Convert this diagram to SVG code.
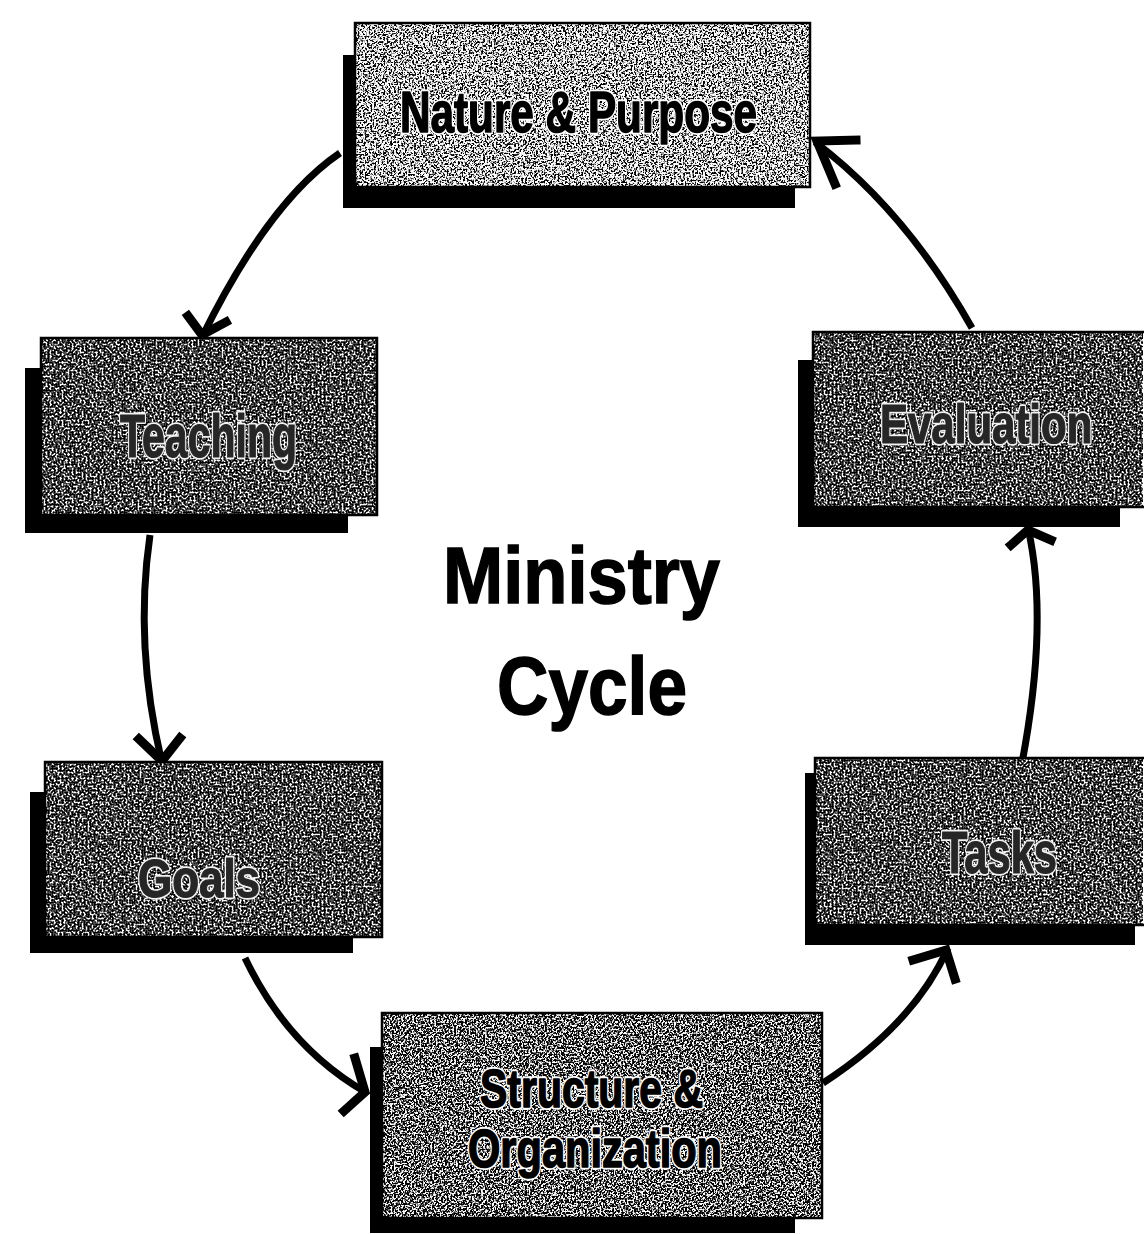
<svg xmlns="http://www.w3.org/2000/svg" width="1144" height="1234" viewBox="0 0 1144 1234">
<style>
  .shadow { fill: #000; }
  .edge { fill: none; stroke: #000; stroke-width: 2.5; }
  .light { fill: #a8a8a8; filter: url(#speckLight); }
  .mid { fill: #909090; filter: url(#speckMid); }
  .dark { fill: #5a5a5a; filter: url(#speckDark); }
  .lbl { font-family: "Liberation Sans", Arial, sans-serif; font-weight: bold; stroke-linejoin: round; }
  .halo { fill: #fff; stroke: #fff; stroke-width: 5; }
  .haloDark { fill: #f2f2f2; stroke: #f2f2f2; stroke-width: 4.5; }
  .ink { fill: #000; stroke: #000; stroke-width: 1.6; }
  .inkDark { fill: #262626; stroke: #262626; stroke-width: 1.2; }
  .title { font-family: "Liberation Sans", Arial, sans-serif; font-weight: bold; fill: #000; stroke: #000; stroke-width: 1.5; }
  .conn path { fill: none; stroke: #000; stroke-width: 7; stroke-linecap: butt; }
  .conn .head { stroke-width: 9; stroke-linecap: square; stroke-linejoin: miter; }
</style>
<defs>
  <filter id="speckLight" x="0" y="0" width="100%" height="100%" color-interpolation-filters="sRGB">
    <feTurbulence type="fractalNoise" baseFrequency="0.55" numOctaves="2" seed="4" result="n"/>
    <feColorMatrix in="n" type="matrix" values="1 0 0 0 0  1 0 0 0 0  1 0 0 0 0  0 0 0 0 1"/>
    <feComponentTransfer>
      <feFuncR type="discrete" tableValues="0 0 0 0 0 0 0 0 0.2 0.6 0.9 1 1 1 1 1 1 1 1 1"/>
      <feFuncG type="discrete" tableValues="0 0 0 0 0 0 0 0 0.2 0.6 0.9 1 1 1 1 1 1 1 1 1"/>
      <feFuncB type="discrete" tableValues="0 0 0 0 0 0 0 0 0.2 0.6 0.9 1 1 1 1 1 1 1 1 1"/>
    </feComponentTransfer>
    <feComposite operator="in" in2="SourceGraphic"/>
  </filter>
  <filter id="speckMid" x="0" y="0" width="100%" height="100%" color-interpolation-filters="sRGB">
    <feTurbulence type="fractalNoise" baseFrequency="0.55" numOctaves="2" seed="9" result="n"/>
    <feColorMatrix in="n" type="matrix" values="1 0 0 0 0  1 0 0 0 0  1 0 0 0 0  0 0 0 0 1"/>
    <feComponentTransfer>
      <feFuncR type="discrete" tableValues="0 0 0 0 0 0 0 0 0 0.15 0.5 0.85 1 1 1 1 1 1 1 1"/>
      <feFuncG type="discrete" tableValues="0 0 0 0 0 0 0 0 0 0.15 0.5 0.85 1 1 1 1 1 1 1 1"/>
      <feFuncB type="discrete" tableValues="0 0 0 0 0 0 0 0 0 0.15 0.5 0.85 1 1 1 1 1 1 1 1"/>
    </feComponentTransfer>
    <feComposite operator="in" in2="SourceGraphic"/>
  </filter>
  <filter id="speckDark" x="0" y="0" width="100%" height="100%" color-interpolation-filters="sRGB">
    <feTurbulence type="fractalNoise" baseFrequency="0.5" numOctaves="2" seed="17" result="n"/>
    <feColorMatrix in="n" type="matrix" values="1 0 0 0 0  1 0 0 0 0  1 0 0 0 0  0 0 0 0 1"/>
    <feComponentTransfer>
      <feFuncR type="discrete" tableValues="0 0 0 0 0 0 0 0 0 0.1 0.3 0.6 0.85 1 1 1 1 1 1 1"/>
      <feFuncG type="discrete" tableValues="0 0 0 0 0 0 0 0 0 0.1 0.3 0.6 0.85 1 1 1 1 1 1 1"/>
      <feFuncB type="discrete" tableValues="0 0 0 0 0 0 0 0 0 0.1 0.3 0.6 0.85 1 1 1 1 1 1 1"/>
    </feComponentTransfer>
    <feComposite operator="in" in2="SourceGraphic"/>
  </filter>
</defs>
<rect x="0" y="0" width="1144" height="1234" fill="#fff"/>

<g id="connectors" class="conn">
  <path d="M340,153 Q269,201 202,337"/>
  <path class="head" d="M188,316 L202,335 L226,322"/>
  <path d="M150,535 Q134,645 162,763"/>
  <path class="head" d="M139,739 L162,761 L180,738"/>
  <path d="M245,958 Q288,1048 367,1093"/>
  <path class="head" d="M355,1058 L365,1092 L344,1111"/>
  <path d="M823,1083 Q914,1024 948,948"/>
  <path class="head" d="M913,960 L946,950 L955,979"/>
  <path d="M1022,763 Q1049,620 1028,528"/>
  <path class="head" d="M1011,545 L1028,530 L1051,540"/>
  <path d="M972,328 Q906,211 815,142"/>
  <path class="head" d="M856,140 L817,141 L835,184"/>
</g>

<g id="node-nature">
  <rect class="shadow" x="343" y="55" width="452" height="153"/>
  <rect class="light" x="355" y="23" width="455" height="164"/>
  <rect class="edge" x="355" y="23" width="455" height="164"/>
  <text class="lbl halo" x="400" y="132" font-size="58" textLength="357" lengthAdjust="spacingAndGlyphs">Nature &amp; Purpose</text>
  <text class="lbl ink" x="400" y="132" font-size="58" textLength="357" lengthAdjust="spacingAndGlyphs">Nature &amp; Purpose</text>
</g>

<g id="node-teaching">
  <rect class="shadow" x="25" y="368" width="323" height="165"/>
  <rect class="dark" x="41" y="338" width="336" height="177"/>
  <rect class="edge" x="41" y="338" width="336" height="177"/>
  <text class="lbl haloDark" x="120" y="457" font-size="62" textLength="177" lengthAdjust="spacingAndGlyphs">Teaching</text>
  <text class="lbl inkDark" x="120" y="457" font-size="62" textLength="177" lengthAdjust="spacingAndGlyphs">Teaching</text>
</g>

<g id="node-evaluation">
  <rect class="shadow" x="798" y="360" width="322" height="167"/>
  <rect class="dark" x="813" y="332" width="330" height="175"/>
  <rect class="edge" x="813" y="332" width="340" height="175"/>
  <text class="lbl haloDark" transform="translate(880,443) scale(0.75,1)" x="0" y="0" font-size="56">Evaluation</text>
  <text class="lbl inkDark" transform="translate(880,443) scale(0.75,1)" x="0" y="0" font-size="56">Evaluation</text>
</g>

<g id="node-goals">
  <rect class="shadow" x="30" y="792" width="323" height="161"/>
  <rect class="dark" x="45" y="762" width="337" height="175"/>
  <rect class="edge" x="45" y="762" width="337" height="175"/>
  <text class="lbl haloDark" x="138" y="897" font-size="54" textLength="122" lengthAdjust="spacingAndGlyphs">Goals</text>
  <text class="lbl inkDark" x="138" y="897" font-size="54" textLength="122" lengthAdjust="spacingAndGlyphs">Goals</text>
</g>

<g id="node-tasks">
  <rect class="shadow" x="805" y="773" width="330" height="172"/>
  <rect class="dark" x="815" y="758" width="328" height="167"/>
  <rect class="edge" x="815" y="758" width="340" height="167"/>
  <text class="lbl haloDark" x="942" y="873" font-size="60" textLength="115" lengthAdjust="spacingAndGlyphs">Tasks</text>
  <text class="lbl inkDark" x="942" y="873" font-size="60" textLength="115" lengthAdjust="spacingAndGlyphs">Tasks</text>
</g>

<g id="node-structure">
  <rect class="shadow" x="370" y="1047" width="425" height="186"/>
  <rect class="mid" x="382" y="1013" width="440" height="205"/>
  <rect class="edge" x="382" y="1013" width="440" height="205"/>
  <text class="lbl halo" x="480" y="1107" font-size="54" textLength="223" lengthAdjust="spacingAndGlyphs">Structure &amp;</text>
  <text class="lbl ink" x="480" y="1107" font-size="54" textLength="223" lengthAdjust="spacingAndGlyphs">Structure &amp;</text>
  <text class="lbl halo" x="468" y="1167" font-size="54" textLength="254" lengthAdjust="spacingAndGlyphs">Organization</text>
  <text class="lbl ink" x="468" y="1167" font-size="54" textLength="254" lengthAdjust="spacingAndGlyphs">Organization</text>
</g>

<g id="title">
  <text class="title" x="443" y="603" font-size="80" textLength="277" lengthAdjust="spacingAndGlyphs">Ministry</text>
  <text class="title" x="497" y="714" font-size="82" textLength="190" lengthAdjust="spacingAndGlyphs">Cycle</text>
</g>
</svg>
